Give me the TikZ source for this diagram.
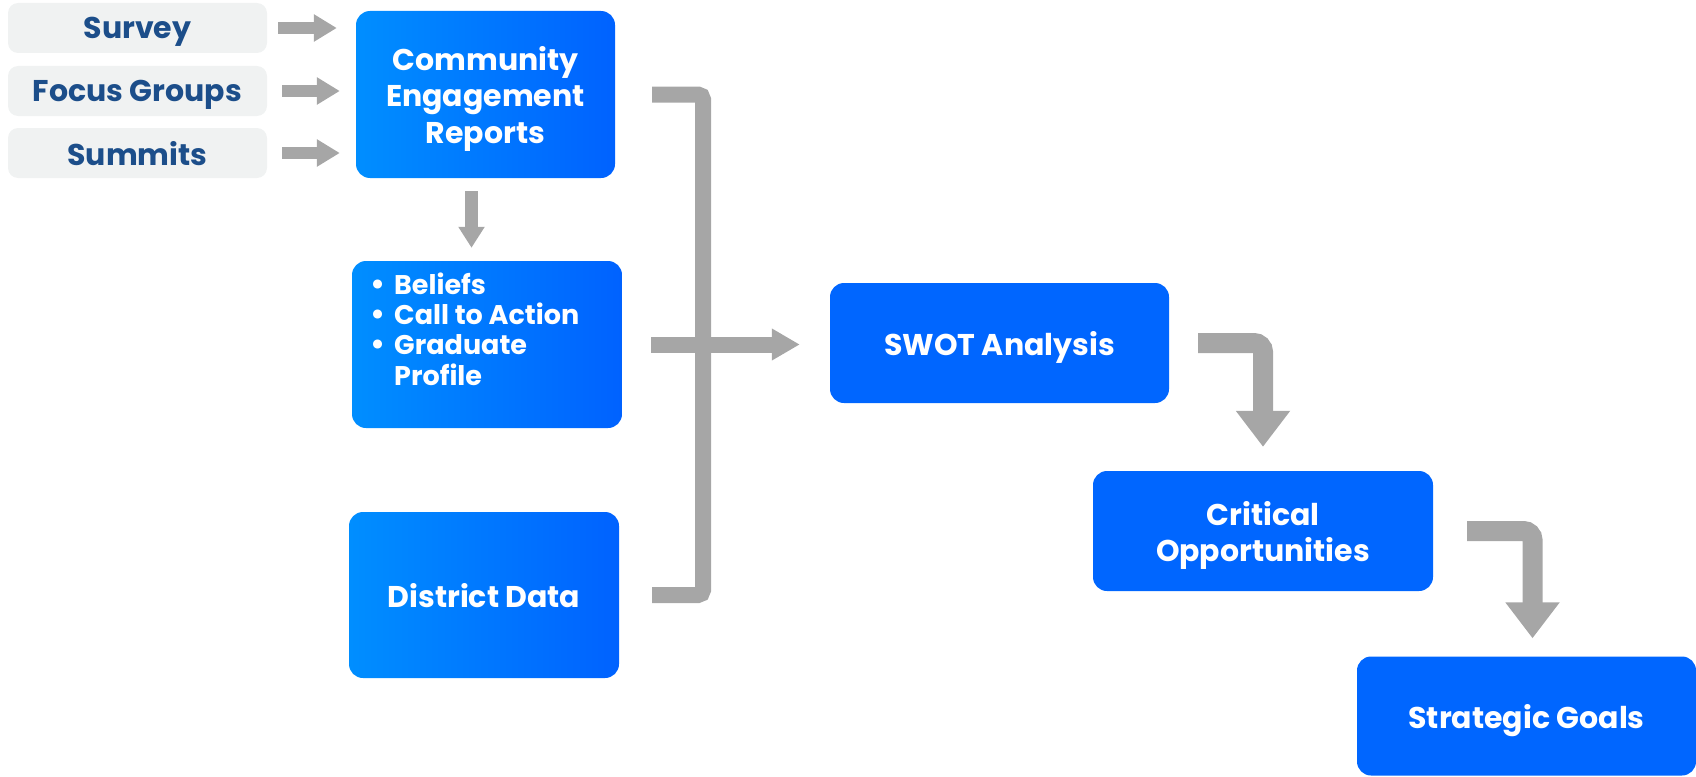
\documentclass[tikz,border=0pt]{standalone}
\usepackage{fontspec}
\setmainfont{Poppins}
\usetikzlibrary{arrows.meta,calc}
\definecolor{grayc}{HTML}{A6A6A6}
\definecolor{inbg}{HTML}{F0F2F2}
\definecolor{intext}{HTML}{1C4E8A}
\definecolor{blueA}{HTML}{008EFF}
\definecolor{blueB}{HTML}{0062FF}
\definecolor{blueS}{HTML}{0066FF}
\tikzset{
  inbox/.style={fill=inbg, rounded corners=10pt, minimum width=259pt, minimum height=50pt, inner sep=0pt,
    text=intext, text depth=0pt, font=\fontsize{30}{36}\selectfont\bfseries},
  gradbox/.style={left color=blueA, right color=blueB, rounded corners=14pt, inner sep=0pt,
    text=white, align=center, text depth=0pt, font=\fontsize{30}{36.5}\selectfont\bfseries},
  solidbox/.style={fill=blueS, rounded corners=14pt, inner sep=0pt, minimum width=339pt, minimum height=120pt,
    text=white, align=center, text depth=0pt, font=\fontsize{30}{36}\selectfont\bfseries},
  smallarr/.style={draw=grayc, line width=12pt, -{Triangle[length=23pt,width=26pt]}},
  bracketline/.style={draw=grayc, line width=16pt, rounded corners=5pt},
  midarr/.style={draw=grayc, line width=16pt, -{Triangle[length=28pt,width=30pt]}},
  elbowarr/.style={draw=grayc, line width=20pt, rounded corners=9pt, -{Triangle[length=36pt,width=52pt]}},
}
\newcommand{\bdot}{\makebox[24pt][l]{\smash{\fontsize{30}{30}\selectfont\textbullet}}}
\begin{document}
\begin{tikzpicture}[x=1pt,y=-1pt]
\useasboundingbox (0,0) rectangle (1696,776);
% input boxes
\node[inbox] (survey) at (137.5,28) {Survey};
\node[inbox] (focus) at (137.5,91) {Focus Groups};
\node[inbox] (summits) at (137.5,153) {Summits};
% left column
\node[gradbox, minimum width=259pt, minimum height=167pt] (cer) at (485.5,94.5) {Community\\Engagement\\Reports};
\node[gradbox, minimum width=270pt, minimum height=167pt] (bul) at (487,344.5) {};
\node[anchor=base west, inner sep=0pt, text=white, font=\fontsize{27}{30}\selectfont\bfseries] (bultxt) at (370,294)
  {\begin{tabular}[t]{@{}l@{}l@{}}\bdot & Beliefs\\
   \bdot & Call to Action\\
   \bdot & Graduate\\
   & Profile\end{tabular}};
\node[gradbox, minimum width=270pt, minimum height=166pt] (dd) at (484,595) {District Data};
% right column
\node[solidbox] (swot) at (999.5,343) {SWOT Analysis};
\node[solidbox, minimum width=340pt] (crit) at (1263,531) {Critical\\Opportunities};
\node[solidbox, minimum height=119pt] (sg) at (1526.5,716) {Strategic Goals};
% connectors
\draw[smallarr, shorten <=11pt, shorten >=19pt] (survey.east) -- (survey.east -| cer.west);
\draw[smallarr, shorten <=15pt, shorten >=16pt] (focus.east) -- (focus.east -| cer.west);
\draw[smallarr, shorten <=15pt, shorten >=16pt] (summits.east) -- (summits.east -| cer.west);
\draw[smallarr, line width=13pt, -{Triangle[length=21pt,width=25pt]}, shorten <=13pt, shorten >=13pt]
  ([xshift=-14pt]cer.south) -- ([xshift=-14pt]cer.south |- bul.north);
\coordinate (bx) at (703,0);
\draw[bracketline, shorten <=37pt, shorten >=33pt] (cer.east) -- (cer.east -| bx) -- (dd.east -| bx) -- (dd.east);
\draw[midarr, shorten <=29pt, shorten >=30pt] (bul.east) -- (bul.east -| swot.west);
\draw[elbowarr, shorten <=29pt, shorten >=24pt] (swot.east) -| (crit.north);
\draw[elbowarr, shorten <=34pt, shorten >=18pt] (crit.east) -| ([xshift=6pt]sg.north);
\end{tikzpicture}
\end{document}
